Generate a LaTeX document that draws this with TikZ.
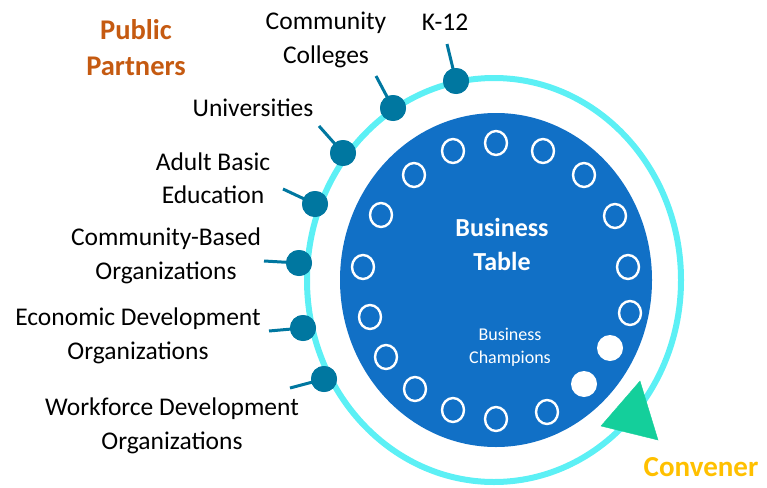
\documentclass[tikz,border=0pt]{standalone}
\usepackage{fontspec}
\setmainfont{Carlito}
\usetikzlibrary{shapes.geometric}
\definecolor{tableblue}{HTML}{1170C6}
\definecolor{ringcyan}{HTML}{5CF0F5}
\definecolor{dotteal}{HTML}{0077A0}
\definecolor{arrowgreen}{HTML}{14CF9B}
\definecolor{partnerorange}{HTML}{C55A11}
\definecolor{convgold}{HTML}{FFC000}
\begin{document}
\begin{tikzpicture}[x=1pt,y=-1pt,
  partnerdot/.style={circle,fill=dotteal,inner sep=0pt,minimum size=26pt},
  stick/.style={draw=dotteal,line width=3pt},
  seat/.style={ellipse,draw=white,line width=2.4pt,inner sep=0pt,minimum width=22pt,minimum height=24pt},
  champ/.style={circle,fill=white,inner sep=0pt,minimum size=26pt},
  lbl/.style={align=center,inner sep=0pt,font=\fontsize{25.5}{33.5}\selectfont},
]
\useasboundingbox (0,0) rectangle (767,487);
% ring
\draw[ringcyan,line width=6pt] (494,280) ellipse [x radius=187, y radius=202];
% table
\node[ellipse,fill=tableblue,minimum width=312pt,minimum height=334pt,inner sep=0pt] (table) at (496,280) {};
% seats
\foreach \i/\x/\y in {1/496/143,2/543/151,3/584/175,4/615/216,5/628/267,6/630/313,9/547/412,10/496/419,11/453/410,12/415/389,13/386/357,14/370/317,15/363/267,16/381/215,17/414/175,18/453/151}
  \node[seat] (seat\i) at (\x,\y) {};
\node[champ] (seat7) at (610,348) {};
\node[champ] (seat8) at (584,384) {};
% table texts
\node[lbl,text=white,font=\bfseries\fontsize{26}{34}\selectfont] (tabletext) at (502,244) {Business\\Table};
\node[lbl,text=white,font=\fontsize{18}{23}\selectfont] (champtext) at (510,347) {Business\\Champions};
% partner dots
\node[partnerdot] (dk12) at (456,81) {};
\node[partnerdot] (dcc) at (393,108) {};
\node[partnerdot] (duni) at (343,153) {};
\node[partnerdot] (dabe) at (315,204) {};
\node[partnerdot] (dcbo) at (299,263) {};
\node[partnerdot] (dedo) at (303,328) {};
\node[partnerdot] (dwdo) at (324,379) {};
\coordinate (sk12) at (447,44);
\coordinate (scc) at (376,76);
\coordinate (suni) at (319,126);
\coordinate (sabe) at (283,189);
\coordinate (scbo) at (264,261);
\coordinate (sedo) at (269,331);
\coordinate (swdo) at (290,388);
\foreach \n in {k12,cc,uni,abe,cbo,edo,wdo}
  \draw[stick] (s\n) -- (d\n.center);
\foreach \n in {k12,cc,uni,abe,cbo,edo,wdo}
  \node[partnerdot] at (d\n) {};
% labels
\node[lbl] (lk12) at (445,22) {K-12};
\node[lbl] (lcc) at (326,40) {Community\\Colleges};
\node[lbl] (luni) at (253,108) {Universities};
\node[lbl] (labe) at (213,178) {Adult Basic\\Education};
\node[lbl] (lcbo) at (166,256) {Community-Based\\Organizations};
\node[lbl] (ledo) at (138,336) {Economic Development\\Organizations};
\node[lbl] (lwdo) at (172,426) {Workforce Development\\Organizations};
\node[lbl,text=partnerorange,font=\bfseries\fontsize{28.5}{36}\selectfont] (public) at (136,48) {Public\\Partners};
% convener arrow
\filldraw[arrowgreen] (640,381) -- (601,426) -- (658,440) -- cycle;
\node[lbl,text=convgold,font=\bfseries\fontsize{29}{36}\selectfont] (convener) at (701,467) {Convener};
\end{tikzpicture}
\end{document}
